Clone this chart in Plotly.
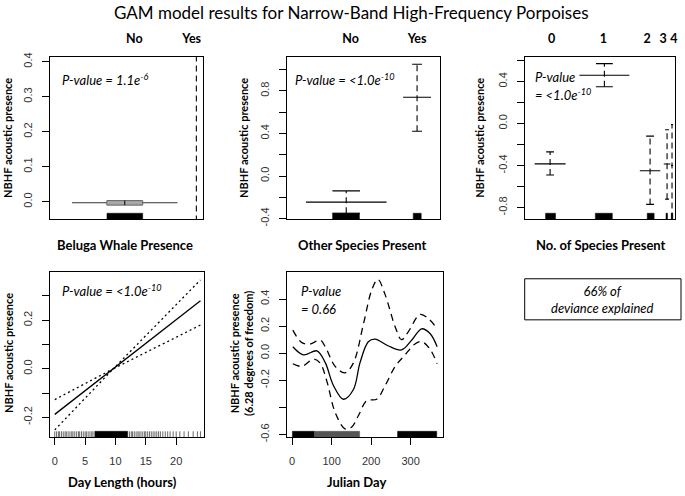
import plotly.graph_objects as go

W, H = 685, 496

# ---------------- data ----------------
# Panel 1: Beluga whale presence (factor term)
beluga_labels = ["No", "Yes"]
beluga_label_pos = [0.552, 0.925]
beluga_pos = [0.489, 0.956]
beluga_halfw = [0.344, 0.004]
beluga_effect = [-0.003, 0.182]
beluga_upper = [0.003, 0.60]
beluga_lower = [-0.010, -0.20]
beluga_se_halfw = [0.117, 0.004]
beluga_rug = [[0.373, 0.606]]

# Panel 2: other species present (factor term)
other_labels = ["No", "Yes"]
other_label_pos = [0.416, 0.85]
other_pos = [0.388, 0.85]
other_halfw = [0.263, 0.091]
other_effect = [-0.245, 0.74]
other_upper = [-0.14, 1.05]
other_lower = [-0.35, 0.42]
other_se_halfw = [0.09, 0.032]
other_rug = [[0.299, 0.474], [0.825, 0.877]]

# Panel 3: number of species present (factor term)
nsp_labels = ["0", "1", "2", "3", "4"]
nsp_label_pos = [0.179, 0.523, 0.815, 0.92, 0.993]
nsp_pos = [0.169, 0.53, 0.834, 0.947, 0.98]
nsp_halfw = [0.103, 0.166, 0.068, 0.022, 0.007]
nsp_effect = [-0.384, 0.46, -0.45, -0.385, -0.40]
nsp_upper = [-0.27, 0.57, -0.12, -0.06, -0.01]
nsp_lower = [-0.49, 0.35, -0.77, -0.72, -1.0]
nsp_se_halfw = [0.026, 0.056, 0.026, 0.013, 0.007]
nsp_rug = [[0.139, 0.205], [0.47, 0.583], [0.815, 0.861], [0.94, 0.95], [0.975, 0.985]]

# Panel 4: day length (linear term)
daylen_x = [0, 9.65, 24]
daylen_fit = [-0.188, 0.0, 0.28]
daylen_upper = [-0.127, 0.0, 0.366]
daylen_lower = [-0.252, 0.0, 0.18]
daylen_rug_sparse = [0.0, 0.3, 0.6, 0.8, 1.1, 1.4, 1.7, 1.9, 2.2, 2.5, 2.8, 3.0, 3.3,
                     3.6, 3.9, 4.1, 4.4, 4.7, 5.0, 5.2, 5.5, 5.8, 6.1, 6.3,
                     12.3, 12.6, 12.8, 13.1, 13.4, 13.7, 13.9, 14.2, 14.5, 14.8, 15.0,
                     15.3, 15.6, 15.9, 16.2, 16.5, 16.8, 17.1, 17.4, 17.8, 18.2, 18.6,
                     19.0, 19.5, 20.0, 20.6, 21.3, 22.0, 22.8, 23.5, 24.0]
daylen_rug_dense = [[6.6, 12.0]]

# Panel 5: Julian day (smooth term)
jd_x = [2, 29, 63, 84, 105, 130, 155, 172, 193, 210, 244, 277, 303, 328, 349, 367]
jd_fit = [0.048, -0.012, 0.017, -0.07, -0.24, -0.34, -0.27, -0.07, 0.085, 0.104,
          0.053, 0.024, 0.097, 0.18, 0.145, 0.048]
jd_up_x = [2, 25, 46, 71, 84, 109, 134, 155, 181, 202, 217, 235, 261, 277, 294, 324, 345, 367]
jd_upper = [0.17, 0.078, 0.068, 0.097, 0.048, -0.097, -0.145, -0.073, 0.22, 0.47, 0.545,
            0.436, 0.194, 0.10, 0.158, 0.286, 0.255, 0.18]
jd_lo_x = [2, 25, 55, 71, 88, 109, 134, 151, 168, 189, 214, 235, 261, 286, 311, 328, 349, 367]
jd_lower = [-0.078, -0.097, -0.044, -0.073, -0.206, -0.436, -0.558, -0.545, -0.46, -0.35,
            -0.34, -0.242, -0.097, -0.012, 0.068, 0.085, 0.03, -0.078]
jd_rug_black = [[1, 57], [267, 366]]
jd_rug_grey = [[57, 171]]

# ---------------- layout geometry (pixels) ----------------
panels = {
    1: dict(x=(50, 204), y=(54, 220), xr=[0, 1], yr=[-0.05, 0.414]),
    2: dict(x=(288, 442), y=(54, 220), xr=[0, 1], yr=[-0.405, 1.12]),
    3: dict(x=(527, 678), y=(54, 220), xr=[0, 1], yr=[-0.91, 0.635]),
    4: dict(x=(50, 205), y=(274, 443), xr=[-0.82, 24.6], yr=[-0.282, 0.399]),
    5: dict(x=(288, 445), y=(274, 443), xr=[-13.4, 382], yr=[-0.62, 0.6]),
}

def ax(k, kind):
    return kind if k == 1 else f"{kind}{k}"

def ph(k, px):
    p = panels[k]
    return px * (p["yr"][1] - p["yr"][0]) / (p["y"][1] - p["y"][0])

fig = go.Figure()
BLACK = "black"

def add(k, **kw):
    fig.add_trace(go.Scatter(xaxis=ax(k, "x"), yaxis=ax(k, "y"), showlegend=False,
                             hoverinfo="skip", **kw))

def rug_blocks(k, intervals, color, hpx=6):
    y0 = panels[k]["yr"][0]
    y1 = y0 + ph(k, hpx)
    xs, ys = [], []
    for a, b in intervals:
        xs += [a, b, b, a, a, None]
        ys += [y0, y0, y1, y1, y0, None]
    add(k, x=xs, y=ys, mode="lines", fill="toself", fillcolor=color,
        line=dict(color=color, width=0.5))

def factor_panel(k, pos, halfw, eff, up, lo, sehw, rug, box_first=False):
    rug_blocks(k, rug, BLACK, 6)
    xs, ys = [], []
    for i, p in enumerate(pos):
        if box_first and i == 0:
            continue
        xs += [p, p, None]
        ys += [lo[i], up[i], None]
    add(k, x=xs, y=ys, mode="lines", line=dict(color=BLACK, width=1.1, dash="6px,4px"))
    xs, ys = [], []
    for i, p in enumerate(pos):
        if box_first and i == 0:
            continue
        for v in (up[i], lo[i]):
            xs += [p - sehw[i], p + sehw[i], None]
            ys += [v, v, None]
    add(k, x=xs, y=ys, mode="lines", line=dict(color=BLACK, width=1.1))
    xs, ys = [], []
    for i, p in enumerate(pos):
        xs += [p - halfw[i], p + halfw[i], None]
        ys += [eff[i], eff[i], None]
    add(k, x=xs, y=ys, mode="lines", line=dict(color="#333" if box_first else BLACK, width=1.1))
    if box_first:
        p, s = pos[0], sehw[0]
        add(k, x=[p - s, p + s, p + s, p - s, p - s], y=[lo[0], lo[0], up[0], up[0], lo[0]],
            mode="lines", fill="toself", fillcolor="#a8a8a8", line=dict(color="#666", width=1))
        add(k, x=[p, p], y=[lo[0], up[0]], mode="lines", line=dict(color=BLACK, width=1))

factor_panel(1, beluga_pos, beluga_halfw, beluga_effect, beluga_upper, beluga_lower,
             beluga_se_halfw, beluga_rug, box_first=True)
factor_panel(2, other_pos, other_halfw, other_effect, other_upper, other_lower,
             other_se_halfw, other_rug)
factor_panel(3, nsp_pos, nsp_halfw, nsp_effect, nsp_upper, nsp_lower,
             nsp_se_halfw, nsp_rug)

# Panel 4
xs, ys = [], []
y0 = panels[4]["yr"][0]
for v in daylen_rug_sparse:
    xs += [v, v, None]
    ys += [y0, y0 + ph(4, 6), None]
add(4, x=xs, y=ys, mode="lines", line=dict(color="#444", width=0.8))
rug_blocks(4, daylen_rug_dense, BLACK, 6)
add(4, x=[daylen_x[0], daylen_x[-1]], y=[daylen_fit[0], daylen_fit[-1]], mode="lines",
    line=dict(color=BLACK, width=1.3))
add(4, x=daylen_x, y=daylen_upper, mode="lines", line=dict(color=BLACK, width=1.3, dash="2px,3px"))
add(4, x=daylen_x, y=daylen_lower, mode="lines", line=dict(color=BLACK, width=1.3, dash="2px,3px"))

# Panel 5
rug_blocks(5, jd_rug_black, BLACK, 6)
rug_blocks(5, jd_rug_grey, "#555", 6)
add(5, x=jd_x, y=jd_fit, mode="lines", line=dict(color=BLACK, width=1.3, shape="spline", smoothing=1.0))
add(5, x=jd_up_x, y=jd_upper, mode="lines",
    line=dict(color=BLACK, width=1.3, dash="7px,5px", shape="spline", smoothing=1.0))
add(5, x=jd_lo_x, y=jd_lower, mode="lines",
    line=dict(color=BLACK, width=1.3, dash="7px,5px", shape="spline", smoothing=1.0))

# ---------------- axes ----------------
TICKFONT = dict(family="Liberation Sans, Arial, sans-serif", size=11, color="#333")
LBLFONT = "Lato, Open Sans, sans-serif"

def fmt(v):
    return f"{v:.1f}".replace("-0.0", "0.0")

y_ticks = {
    1: ([0, 0.1, 0.2, 0.3, 0.4], [0, 0.1, 0.2, 0.3, 0.4]),
    2: ([-0.4, -0.2, 0, 0.2, 0.4, 0.6, 0.8, 1.0], [-0.4, 0, 0.4, 0.8]),
    3: ([-0.8, -0.6, -0.4, -0.2, 0, 0.2, 0.4, 0.6], [-0.8, -0.4, 0, 0.4]),
    4: ([-0.2, -0.1, 0, 0.1, 0.2, 0.3], [-0.2, 0, 0.2]),
    5: ([-0.6, -0.4, -0.2, 0, 0.2, 0.4], [-0.6, -0.2, 0, 0.2, 0.4]),
}
top_labels = {
    1: (beluga_label_pos, beluga_labels),
    2: (other_label_pos, other_labels),
    3: (nsp_label_pos, nsp_labels),
}
x_ticks = {4: [0, 5, 10, 15, 20], 5: [0, 100, 200, 300]}

layout = {}
for k, p in panels.items():
    base = dict(showline=True, mirror=True, linecolor=BLACK, linewidth=1, showgrid=False,
                zeroline=False, fixedrange=True)
    xa = dict(base, domain=[p["x"][0] / W, p["x"][1] / W], range=p["xr"],
              anchor=ax(k, "y"))
    if k in top_labels:
        pos, lab = top_labels[k]
        xa.update(side="top", ticks="", tickvals=pos, ticktext=[f"<b>{t}</b>" for t in lab],
                  tickfont=dict(family=LBLFONT, size=12.5, color="black"), ticklabelstandoff=8)
    else:
        xa.update(ticks="outside", ticklen=7, tickcolor=BLACK, tickvals=x_ticks[k],
                  ticktext=[str(v) for v in x_ticks[k]], tickfont=TICKFONT, ticklabelstandoff=7)
    tv, lv = y_ticks[k]
    ya = dict(base, domain=[1 - p["y"][1] / H, 1 - p["y"][0] / H], range=p["yr"],
              anchor=ax(k, "x"), ticks="outside", ticklen=7, tickcolor=BLACK, tickvals=tv,
              ticktext=[fmt(v) if any(abs(v - l) < 1e-9 for l in lv) else "" for v in tv],
              tickangle=-90, tickfont=TICKFONT, ticklabelstandoff=5)
    layout["xaxis" if k == 1 else f"xaxis{k}"] = xa
    layout["yaxis" if k == 1 else f"yaxis{k}"] = ya

fig.update_layout(**layout)

# ---------------- text ----------------
anns = []
def ann(text, x, y, size=13, angle=0, xanchor="center", italic=False, bold=False, align="center"):
    if bold:
        text = f"<b>{text}</b>"
    if italic:
        text = f"<i>{text}</i>"
    anns.append(dict(text=text, x=x / W, y=1 - y / H, xref="paper", yref="paper",
                     showarrow=False, textangle=angle, xanchor=xanchor, yanchor="middle",
                     align=align, font=dict(family=LBLFONT, size=size, color="black")))

ann("GAM model results for Narrow-Band High-Frequency Porpoises", 353, 9, size=17)
# x titles
ann("Beluga Whale Presence", 126, 246, bold=True)
ann("Other Species Present", 364, 246, bold=True)
ann("No. of Species Present", 604, 246, bold=True)
ann("Day Length (hours)", 123, 489, bold=True)
ann("Julian Day", 358, 489, bold=True)
# y titles
ann("NBHF acoustic presence", 8, 137, size=11, angle=-90, bold=True)
ann("NBHF acoustic presence", 245, 137, size=11, angle=-90, bold=True)
ann("NBHF acoustic presence", 482, 137, size=11, angle=-90, bold=True)
ann("NBHF acoustic presence", 8, 357, size=11, angle=-90, bold=True)
ann("NBHF acoustic presence<br>(6.28 degrees of freedom)", 242, 357, size=11, angle=-90, bold=True)
# p-values
ann("P-value = 1.1e<sup>-6</sup>", 60, 77, xanchor="left", italic=True)
ann("P-value = &lt;1.0e<sup>-10</sup>", 294, 77, xanchor="left", italic=True)
ann("P-value", 535, 75, xanchor="left", italic=True)
ann("= &lt;1.0e<sup>-10</sup>", 535, 93, xanchor="left", italic=True)
ann("P-value = &lt;1.0e<sup>-10</sup>", 60, 293, xanchor="left", italic=True)
ann("P-value", 300, 293, xanchor="left", italic=True)
ann("= 0.66", 300, 312, xanchor="left", italic=True)
# deviance box
ann("66% of<br>deviance explained", 605, 302, italic=True)

fig.update_layout(
    annotations=anns,
    shapes=[dict(type="rect", xref="paper", yref="paper", x0=527 / W, x1=684 / W,
                 y0=1 - 323 / H, y1=1 - 281 / H, line=dict(color="black", width=1))],
    width=W, height=H, margin=dict(l=0, r=0, t=0, b=0),
    paper_bgcolor="white", plot_bgcolor="white",
)

fig.write_html("out.html", config={"displayModeBar": False},
               post_script="document.body.style.margin='0';document.body.style.overflow='hidden';")
